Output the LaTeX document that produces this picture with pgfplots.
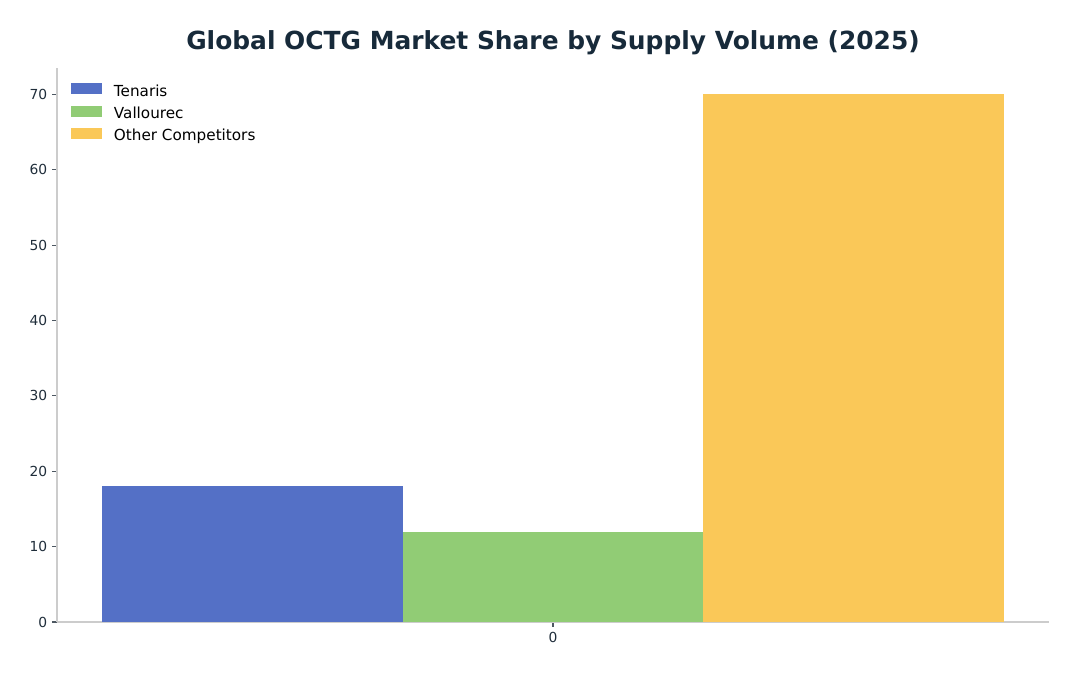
\documentclass[border=0pt]{standalone}
\usepackage{pgfplots}
\pgfplotsset{compat=1.18}
\usepackage{fontspec}
\setmainfont{DejaVu Sans}

\definecolor{cTenaris}{HTML}{5470C6}
\definecolor{cVallourec}{HTML}{91CC75}
\definecolor{cOther}{HTML}{FAC858}
\definecolor{titlec}{HTML}{172A3A}
\definecolor{tickc}{HTML}{1F2D3A}
\definecolor{spinec}{HTML}{CCCCCC}

\begin{document}
\begin{tikzpicture}
\begin{axis}[
  scale only axis,
  width=714.24bp, height=398.88bp,
  ybar=0pt, bar width=0.266667,
  xmin=-0.44, xmax=0.44,
  ymin=0, ymax=73.5,
  xtick={0}, ytick={0,10,...,70},
  axis lines=left,
  axis line style={-, draw=spinec, line width=0.8bp},
  tick align=outside,
  major tick length=3.5bp,
  tick style={draw=tickc!80, line width=0.8bp},
  ticklabel style={font=\fontsize{10}{12}\selectfont, text=tickc},
  /pgf/number format/assume math mode=true,
  legend cell align=left,
  legend style={at={(rel axis cs:0,1)}, anchor=north west,
    xshift=10.1bp, yshift=-10.9bp, draw=none, fill=none, inner sep=0pt,
    font=\fontsize{11}{13}\selectfont, row sep=4.4bp, column sep=8.4bp,
    nodes={inner sep=0pt, text height=8.5bp, text depth=2.5bp}},
  legend image code/.code={\fill[#1,draw=none] (0bp,-1.8bp) rectangle (22.3bp,6.1bp);},
  clip=false,
]
\addplot[fill=cTenaris, draw=none] coordinates {(0,18)};
\addlegendentry{Tenaris}
\addplot[fill=cVallourec, draw=none] coordinates {(0,12)};
\addlegendentry{Vallourec}
\addplot[fill=cOther, draw=none] coordinates {(0,70)};
\addlegendentry{Other Competitors}
\node[anchor=base, font=\fontsize{18}{22}\bfseries, text=titlec, inner sep=0pt]
  at ([yshift=13bp]rel axis cs:0.5,1) {Global OCTG Market Share by Supply Volume (2025)};
\end{axis}
\path[use as bounding box] (-41.04bp,-38.88bp) rectangle (735.84bp,447.84bp);
\end{tikzpicture}
\end{document}
